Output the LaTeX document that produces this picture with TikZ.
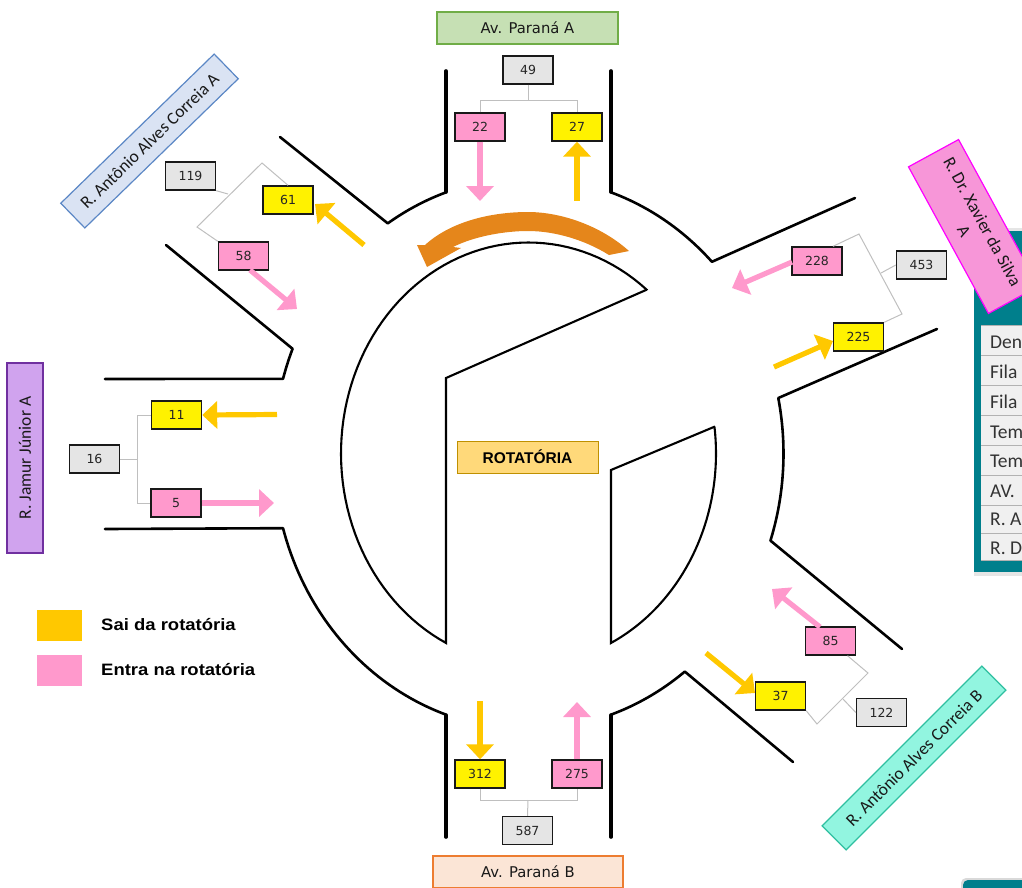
\documentclass[tikz,border=0pt]{standalone}
\usepackage{fontspec}
\setmainfont{DejaVu Sans}
\newfontfamily\carl{Carlito}
\newfontfamily\libs{Liberation Sans}
\usetikzlibrary{arrows.meta}
\definecolor{pinkc}{HTML}{FF99CC}
\definecolor{yelc}{HTML}{FFC800}
\definecolor{teal1}{HTML}{007F8C}
\tikzset{
 base/.style={draw=black!90,line width=1.4pt,minimum width=50pt,minimum height=28pt,inner sep=0pt,font=\fontsize{12.5}{14}\selectfont,text=black!85},
 gbox/.style={base,fill=black!10},
 pbox/.style={base,fill=pinkc},
 ybox/.style={base,fill=yellow},
 lnk/.style={draw=black!25,line width=1pt},
 wall/.style={draw=black,line width=2.6pt,line cap=round,line join=round},
 thickwall/.style={wall,line width=3.6pt},
 inner/.style={draw=black,line width=2.1pt,line join=miter},
 barr/.style={line width=5.2pt,-{Triangle[length=15pt,width=27pt]}},
 parr/.style={barr,draw=pinkc,color=pinkc},
 yarr/.style={barr,draw=yelc,color=yelc},
 road/.style={line width=1.2pt,inner sep=0pt,align=center,font=\carl\fontsize{17.5}{21}\selectfont,text=black!90},
 parana/.style={road,minimum height=32pt,font=\fontsize{14.8}{17}\selectfont},
 rowt/.style={anchor=west,inner sep=0pt,font=\carl\fontsize{19.5}{21}\selectfont,text=black!80},
 legt/.style={anchor=west,inner sep=0pt,font=\libs\bfseries\fontsize{16.5}{18}\selectfont}
}
\begin{document}
\begin{tikzpicture}[x=1pt,y=-1pt]
\useasboundingbox (0,0) rectangle (1022,887);
\clip (0,0) rectangle (1022,887);
% side panel
\fill[black!10] (974,228) rectangle (1022,576);
\fill[teal1] (974,231) rectangle (1022,572);
\fill[black!6] (981,325) rectangle (1022,560);
\foreach \yy in {325,355,385,415,445,475,505,533,560} \draw[black!30,line width=0.8pt] (981,\yy) -- (1022,\yy);
\node[rowt] (r1) at (990,342) {Den};
\node[rowt] (r2) at (990,372) {Fila};
\node[rowt] (r3) at (990,402) {Fila};
\node[rowt] (r4) at (990,432) {Tem};
\node[rowt] (r5) at (990,461) {Tem};
\node[rowt] (r6) at (990,491) {AV.};
\node[rowt] (r7) at (990,519) {R. A};
\node[rowt] (r8) at (990,548) {R. D};
\fill[black!15,rounded corners=5pt] (961,878) rectangle (1030,900);
\fill[teal1,rounded corners=5pt] (963,880) rectangle (1030,900);
% walls
\draw[thickwall] (446,71) -- (446,192);
\draw[wall] (280,137) -- plot[domain=123.5:108.9,samples=20] ({528.5+255*cos(\x)},{453.5-276*sin(\x)});
\draw[thickwall] (611,71) -- (611,192);
\draw[wall] plot[domain=71.1:44,samples=25] ({528.5+255*cos(\x)},{453.5-276*sin(\x)}) -- (855,198);
\draw[wall] (937,329) -- plot[domain=11.6:-18.4,samples=25] ({528.5+255*cos(\x)},{453.5-276*sin(\x)}) -- (902,649);
\draw[wall] (793,762) -- plot[domain=-52.2:-71.1,samples=20] ({528.5+255*cos(\x)},{453.5-276*sin(\x)});
\draw[thickwall] (611,715) -- (611,837);
\draw[thickwall] (446,715) -- (446,837);
\draw[wall] plot[domain=251.1:195.7,samples=40] ({528.5+255*cos(\x)},{453.5-276*sin(\x)}) -- (105,529);
\draw[wall] (105,379) -- plot[domain=164.3:157.7,samples=8] ({528.5+255*cos(\x)},{453.5-276*sin(\x)}) -- (166,245);
% inner islands
\draw[inner] (446,378) -- (646,290) -- plot[domain=51.0:243.9,samples=80] ({528.5+187.5*cos(\x)},{453.5-211*sin(\x)}) -- cycle;
\draw[inner] (611,470) -- (715,426.5) -- plot[domain=7.3:-63.9,samples=40] ({528.5+187.5*cos(\x)},{453.5-211*sin(\x)}) -- cycle;
% orange arrow
\fill[fill={rgb,255:red,229;green,134;blue,27}] (629,251) .. controls (600,225) and (560,212) .. (528,212) .. controls (490,212) and (450,222) .. (425,245) -- (417,245) -- (427,267) -- (461,248) -- (453,247) .. controls (475,236) and (505,231) .. (528,231) .. controls (555,231) and (585,240) .. (609,255) -- cycle;
% road labels
\node[parana,draw={rgb,255:red,112;green,173;blue,71},fill={rgb,255:red,198;green,224;blue,180},minimum width=181pt] (parA) at (527.5,28) {Av. Paraná A};
\node[parana,draw={rgb,255:red,237;green,125;blue,49},fill={rgb,255:red,251;green,229;blue,214},minimum width=190pt] (parB) at (528,872) {Av. Paraná B};
\node[road,draw={rgb,255:red,112;green,48;blue,160},fill={rgb,255:red,208;green,163;blue,238},minimum width=190pt,minimum height=36pt,rotate=90] (jam) at (25,458) {R. Jamur Júnior A};
\node[road,draw={rgb,255:red,91;green,135;blue,197},fill={rgb,255:red,218;green,227;blue,243},minimum width=214pt,minimum height=34.5pt,rotate=44.2] (antA) at (149.5,141) {R. Antônio Alves Correia A};
\node[road,draw={rgb,255:red,47;green,191;blue,160},fill={rgb,255:red,146;green,245;blue,224},minimum width=226pt,minimum height=34pt,rotate=45] (antB) at (914,758) {R. Antônio Alves Correia B};
\node[road,draw={rgb,255:red,255;green,0;blue,255},fill={rgb,255:red,247;green,150;blue,216},minimum width=167pt,minimum height=57pt,rotate=-61.4] (xav) at (973.5,226.5) {R. Dr. Xavier da Silva\\A};
% rotatoria
\node[draw={rgb,255:red,191;green,144;blue,0},line width=0.7pt,fill={rgb,255:red,255;green,217;blue,122},minimum width=141pt,minimum height=32pt,inner sep=0pt,font=\libs\bfseries\fontsize{15.5}{18}\selectfont] (rot) at (527.5,457) {ROTATÓRIA};
% gray junction coordinates
\coordinate (jt) at (528,100);
\coordinate (jt1) at (480,100);
\coordinate (jt2) at (577,100);
\coordinate (ja) at (262,163);
\coordinate (jb) at (197,227);
\coordinate (jc) at (228,194);
\coordinate (jd) at (859,234);
\coordinate (je) at (902,314);
\coordinate (jf) at (881,273);
\coordinate (jg) at (137,459);
\coordinate (jg1) at (137,415);
\coordinate (jg2) at (137,503);
\coordinate (jh) at (868,673);
\coordinate (ji) at (817,724);
\coordinate (jj) at (843,699);
\coordinate (jk) at (528,800);
\coordinate (jk1) at (480,800);
\coordinate (jk2) at (577,800);
% count boxes
\node[gbox] (n49) at (528,70) {49};
\node[pbox] (n22) at (480,127) {22};
\node[ybox] (n27) at (577,127) {27};
\node[gbox] (n119) at (190.5,176) {119};
\node[ybox] (n61) at (288,200) {61};
\node[pbox] (n58) at (243.5,256) {58};
\node[pbox] (n228) at (817,261) {228};
\node[gbox] (n453) at (921.5,265) {453};
\node[ybox] (n225) at (858.5,337) {225};
\node[ybox] (n11) at (176.5,415) {11};
\node[gbox] (n16) at (94.5,459) {16};
\node[pbox] (n5) at (176,503) {5};
\node[pbox] (n85) at (830.5,641) {85};
\node[ybox] (n37) at (780.5,696) {37};
\node[gbox] (n122) at (881.5,712.5) {122};
\node[ybox] (n312) at (480,774) {312};
\node[pbox] (n275) at (577,774) {275};
\node[gbox] (n587) at (527.5,830.5) {587};
% connectors
\draw[lnk] (n49.south) -- (jt) (n22.north) -- (jt1) -- (jt2) -- (n27.north);
\draw[lnk] (n61.north) -- (ja) -- (jb) -- (n58.north west);
\draw[lnk] (n119.south east) -- (jc);
\draw[lnk] (n228.north) ++(16,0) -- (jd) -- (je) -- (n225.north east);
\draw[lnk] (n453.west) -- (jf);
\draw[lnk] (n16.east) -- (jg) (n11.west) -- (jg1) -- (jg2) -- (n5.west);
\draw[lnk] (n85.south) ++(17,0) -- (jh) -- (ji) -- (n37.south east);
\draw[lnk] (n122.west) -- (jj);
\draw[lnk] (n312.south) -- (jk1) -- (jk2) -- (n275.south);
\draw[lnk] (jk) -- (n587.north);
% flow arrows
\coordinate (a22) at (480,201);
\coordinate (a27) at (577,201);
\coordinate (a61) at (364,245);
\coordinate (a61t) at (315,204);
\coordinate (a58) at (297,309);
\coordinate (a58s) at (250,270);
\coordinate (a228) at (732,288);
\coordinate (a228s) at (792,262);
\coordinate (a225) at (774,367);
\coordinate (a225t) at (833,341);
\coordinate (a11) at (277,414.5);
\coordinate (a5) at (274,503);
\coordinate (a85) at (772,589);
\coordinate (a85s) at (820,627);
\coordinate (a37) at (706,653);
\coordinate (a37t) at (755,693);
\coordinate (a312) at (480,701);
\coordinate (a275) at (577,702);
\draw[parr] (n22.south) -- (a22);
\draw[yarr] (a27) -- (n27.south);
\draw[yarr] (a61) -- (a61t);
\draw[parr] (a58s) -- (a58);
\draw[parr] (a228s) -- (a228);
\draw[yarr] (a225) -- (a225t);
\draw[yarr] (a11) -- (n11.east);
\draw[parr] (n5.east) -- (a5);
\draw[parr] (a85s) -- (a85);
\draw[yarr] (a37) -- (a37t);
\draw[yarr] (a312) -- (n312.north);
\draw[parr] (n275.north) -- (a275);
% legend
\fill[yelc] (37,610) rectangle (82,641);
\fill[pinkc] (37,655) rectangle (82,686);
\node[legt,xscale=1.12] (l1) at (101,625) {Sai da rotatória};
\node[legt,xscale=1.12] (l2) at (101,670) {Entra na rotatória};
\end{tikzpicture}
\end{document}
